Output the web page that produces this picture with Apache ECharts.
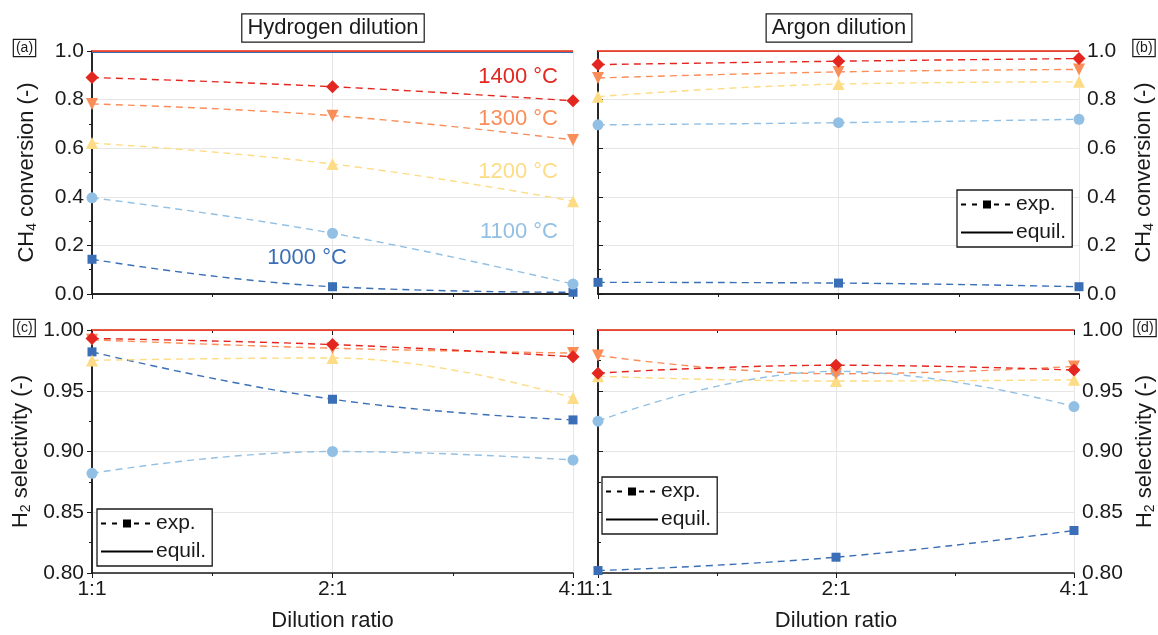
<!DOCTYPE html>
<html>
<head>
<meta charset="utf-8">
<script src="https://cdn.jsdelivr.net/npm/echarts@6/dist/echarts.min.js"></script>
<style>
  html, body { margin: 0; padding: 0; background: #fff; }
  #chart { width: 1158px; height: 635px; }
</style>
</head>
<body>
<div id="chart"></div>
<script>
// dilution ratios on the x axis
const ratios = ['1:1', '2:1', '4:1'];
const temps = ['1000 °C', '1100 °C', '1200 °C', '1300 °C', '1400 °C'];

// CH4 conversion, hydrogen dilution (rows: 1000..1400 °C)
const convHydrogen = [
  [0.143, 0.030, 0.007],
  [0.396, 0.250, 0.041],
  [0.621, 0.535, 0.382],
  [0.782, 0.734, 0.634],
  [0.891, 0.853, 0.795]
];
// CH4 conversion, argon dilution
const convArgon = [
  [0.048, 0.045, 0.030],
  [0.696, 0.705, 0.719],
  [0.812, 0.864, 0.873],
  [0.889, 0.914, 0.924],
  [0.944, 0.958, 0.969]
];
// H2 selectivity, hydrogen dilution
const selHydrogen = [
  [0.982, 0.943, 0.926],
  [0.882, 0.900, 0.893],
  [0.975, 0.977, 0.944],
  [0.992, 0.985, 0.981],
  [0.993, 0.988, 0.978]
];
// H2 selectivity, argon dilution
const selArgon = [
  [0.802, 0.813, 0.835],
  [0.925, 0.966, 0.937],
  [0.962, 0.958, 0.959],
  [0.979, 0.964, 0.970],
  [0.9645, 0.971, 0.967]
];

// equilibrium (solid lines), same row order
const eqConvHydrogen = [
  [0.995, 0.995, 0.995],
  [0.999, 0.999, 0.999],
  [1, 1, 1],
  [1, 1, 1],
  [1, 1, 1]
];
const eqConvArgon = [
  [1, 1, 1], [1, 1, 1], [1, 1, 1], [1, 1, 1], [1, 1, 1]
];
const eqSelHydrogen = [
  [1, 1, 1], [1, 1, 1], [1, 1, 1], [1, 1, 1], [1, 1, 1]
];
const eqSelArgon = [
  [1, 1, 1], [1, 1, 1], [1, 1, 1], [1, 1, 1], [1, 1, 1]
];

const colors = ['#3a6fb7', '#92c0e4', '#fedc85', '#fb8d59', '#e3261f'];
const symbols = ['rect', 'circle', 'triangle', 'triangle', 'diamond'];
const symbolSizes = [9, 11, 12, 12, 13];
const symbolRotates = [0, 0, 0, 180, 0];

const FONT = '"Liberation Sans", Arial, sans-serif';
const INK = '#1a1a1a';

const chart = echarts.init(document.getElementById('chart'), null, { renderer: 'canvas' });

const panels = [
  { exp: convHydrogen, eq: eqConvHydrogen, left: true,  sel: false, xlab: false },
  { exp: convArgon,    eq: eqConvArgon,    left: false, sel: false, xlab: false },
  { exp: selHydrogen,  eq: eqSelHydrogen,  left: true,  sel: true,  xlab: true },
  { exp: selArgon,     eq: eqSelArgon,     left: false, sel: true,  xlab: true }
];

const grids = [
  { left: 92,  right: 585, top: 51,  height: 243 },
  { left: 598, right: 79,  top: 51,  height: 243 },
  { left: 92,  right: 585, top: 330, height: 243 },
  { left: 598, right: 79,  top: 330, height: 243 }
];

const xAxis = [];
const yAxis = [];
const series = [];

panels.forEach((p, i) => {
  const line = { show: true, lineStyle: { color: INK, width: 1.5 } };
  xAxis.push({
    type: 'value', gridIndex: i, position: 'bottom', min: 0, max: 2, interval: 1,
    axisLine: line,
    axisTick: { show: true, inside: false, length: 5, lineStyle: { color: INK } },
    minorTick: { show: true, splitNumber: 2, length: 3, lineStyle: { color: INK } },
    splitLine: { show: true, lineStyle: { color: '#e6e6e6' } },
    axisLabel: {
      show: p.xlab, formatter: v => ratios[v], color: INK, fontSize: 21, fontFamily: FONT, margin: 6
    },
    name: p.xlab ? 'Dilution ratio' : '',
    nameLocation: 'middle', nameGap: 37,
    nameTextStyle: { fontSize: 22, color: INK, fontFamily: FONT }
  });
  xAxis.push({
    type: 'value', gridIndex: i, position: 'top', min: 0, max: 2, interval: 1,
    axisLine: line,
    axisTick: { show: true, inside: true, length: 5, lineStyle: { color: INK } },
    minorTick: { show: true, splitNumber: 2, length: 3, lineStyle: { color: INK } },
    splitLine: { show: false },
    axisLabel: { show: false }
  });

  const yr = p.sel ? { min: 0.8, max: 1, interval: 0.05 } : { min: 0, max: 1, interval: 0.2 };
  const dec = p.sel ? 2 : 1;
  const name = p.sel ? 'H{s|2} selectivity (-)' : 'CH{s|4} conversion (-)';
  yAxis.push(Object.assign({
    type: 'value', gridIndex: i, position: p.left ? 'left' : 'right',
    axisLine: line,
    axisTick: { show: true, inside: false, length: 5, lineStyle: { color: INK } },
    minorTick: { show: true, splitNumber: 2, length: 3, lineStyle: { color: INK } },
    splitLine: { show: true, lineStyle: { color: '#e6e6e6' } },
    axisLabel: {
      formatter: v => v.toFixed(dec), color: INK, fontSize: 21, fontFamily: FONT, margin: 8
    },
    name: name, nameLocation: 'middle', nameRotate: 90, nameGap: p.sel ? 59 : 53,
    nameTextStyle: {
      fontSize: 22, color: INK, fontFamily: FONT,
      rich: { s: { fontSize: 14, color: INK, fontFamily: FONT, padding: [10, 0, 0, 0] } }
    }
  }, yr));
  yAxis.push(Object.assign({
    type: 'value', gridIndex: i, position: p.left ? 'right' : 'left',
    axisLine: line,
    axisTick: { show: true, inside: true, length: 5, lineStyle: { color: INK } },
    minorTick: { show: true, splitNumber: 2, length: 3, lineStyle: { color: INK } },
    splitLine: { show: false },
    axisLabel: { show: false }
  }, yr));

  temps.forEach((t, k) => {
    series.push({
      name: t + ' equil.', type: 'line', xAxisIndex: 2 * i, yAxisIndex: 2 * i,
      data: ratios.map((r, j) => [j, p.eq[k][j]]),
      symbol: 'none', color: colors[k],
      lineStyle: { width: 1.6, type: 'solid', color: colors[k] },
      z: 3 + k, silent: true
    });
  });
  temps.forEach((t, k) => {
    series.push({
      name: t + ' exp.', type: 'line', xAxisIndex: 2 * i, yAxisIndex: 2 * i,
      data: ratios.map((r, j) => [j, p.exp[k][j]]),
      smooth: 0.45, showAllSymbol: true,
      symbol: symbols[k], symbolSize: symbolSizes[k], symbolRotate: symbolRotates[k],
      color: colors[k], itemStyle: { color: colors[k] },
      lineStyle: { width: 1.4, type: [7, 5], color: colors[k] },
      z: 10 + k, silent: true
    });
  });
});

// legend-only series
series.push({
  name: 'exp.', type: 'line', data: [], color: '#000', symbol: 'rect', symbolSize: 8,
  lineStyle: { type: [5, 6], width: 1.3, color: '#000' }
});
series.push({
  name: 'equil.', type: 'line', data: [], color: '#000', symbol: 'circle', symbolSize: 0,
  itemStyle: { opacity: 0 },
  lineStyle: { type: 'solid', width: 1.3, color: '#000' }
});

function legendAt(left, top) {
  return {
    data: ['exp.', 'equil.'], orient: 'vertical', left: left, top: top,
    itemWidth: 52, itemHeight: 10, itemGap: 7,
    padding: [4, 6, 4, 3], borderColor: INK, borderWidth: 1.3, backgroundColor: '#fff',
    selectedMode: false,
    textStyle: { fontSize: 21, color: INK, fontFamily: FONT, padding: [0, 0, 0, -2] }
  };
}

function boxedText(text, x, y, size) {
  return {
    type: 'text', x: x, y: y, z: 50,
    style: {
      text: text, fill: INK, font: size + 'px ' + FONT, align: 'center', verticalAlign: 'middle',
      borderColor: INK, borderWidth: 1.2, padding: size > 16 ? [3, 5, 2, 5] : [1, 2, 1, 2],
      backgroundColor: '#fff'
    }
  };
}

function tempLabel(text, x, y, color, align) {
  return {
    type: 'text', x: x, y: y, z: 50,
    style: { text: text, fill: color, font: '22px ' + FONT, align: align, verticalAlign: 'middle' }
  };
}

const option = {
  animation: false,
  backgroundColor: '#fff',
  grid: grids,
  xAxis: xAxis,
  yAxis: yAxis,
  legend: [legendAt(957, 190), legendAt(97, 509), legendAt(602, 477)],
  series: series,
  graphic: [
    boxedText('Hydrogen dilution', 333, 28, 22),
    boxedText('Argon dilution', 839, 28, 22),
    boxedText('(a)', 24.5, 48, 14),
    boxedText('(b)', 1144, 48, 14),
    boxedText('(c)', 24.5, 328, 14),
    boxedText('(d)', 1145, 328, 14),
    tempLabel('1400 °C', 558, 77, colors[4], 'right'),
    tempLabel('1300 °C', 558, 119, colors[3], 'right'),
    tempLabel('1200 °C', 558, 172, colors[2], 'right'),
    tempLabel('1100 °C', 558, 232, colors[1], 'right'),
    tempLabel('1000 °C', 307, 258, colors[0], 'center')
  ]
};

chart.setOption(option);
</script>
</body>
</html>
